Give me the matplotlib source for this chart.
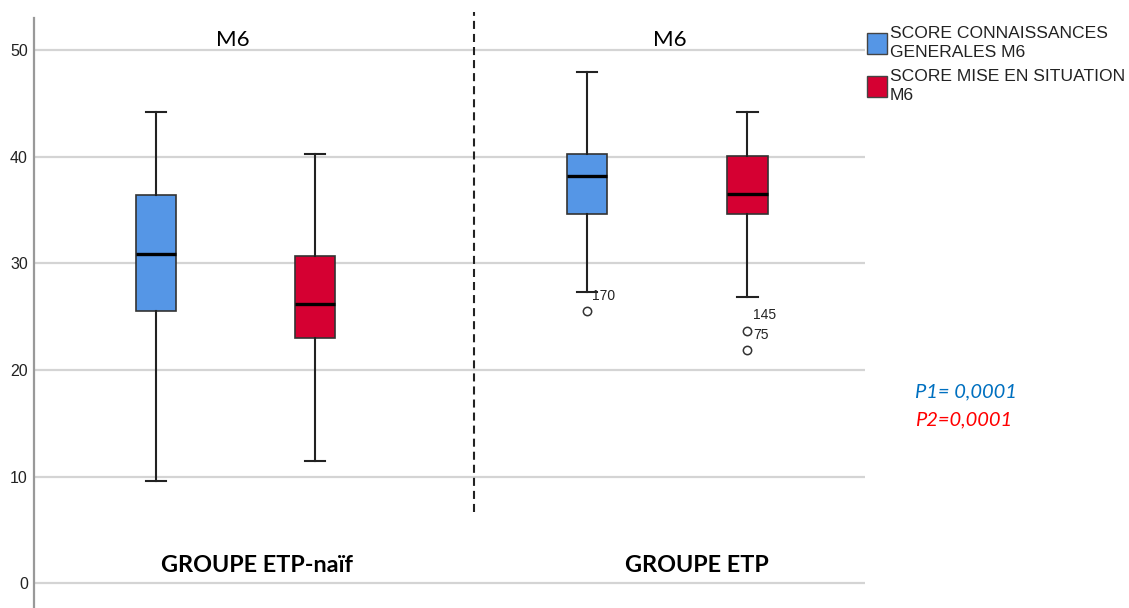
import matplotlib
matplotlib.use("Agg")
import matplotlib.pyplot as plt
from matplotlib.patches import Rectangle

# Data (SPSS boxplot, scores at M6)
groups = ["GROUPE ETP-naïf", "GROUPE ETP"]
series = ["SCORE CONNAISSANCES\nGENERALES M6", "SCORE MISE EN SITUATION\nM6"]
whislo = [9.6, 11.5, 27.3, 26.9]
q1 = [25.5, 23.0, 34.6, 34.6]
med = [30.9, 26.2, 38.2, 36.5]
q3 = [36.4, 30.7, 40.3, 40.1]
whishi = [44.2, 40.3, 48.0, 44.2]
fliers = [[], [], [25.5], [23.7, 21.9]]
flier_ids = [[], [], ["170"], ["145", "75"]]
yticks = [0, 10, 20, 30, 40, 50]
p_texts = ["P1= 0,0001", "P2=0,0001"]

colors = ["#5596E6", "#D50032"]
p_colors = ["#0070C0", "#FF0000"]
positions = [1, 2, 3.71, 4.72]

plt.rcParams["lines.scale_dashes"] = False
fig = plt.figure(figsize=(11.29, 6.08), dpi=100)
ax = fig.add_axes([34 / 1129, 0, 831 / 1129, 590 / 608])

stats = []
for i in range(4):
    stats.append({"whislo": whislo[i], "q1": q1[i], "med": med[i],
                  "q3": q3[i], "whishi": whishi[i], "fliers": fliers[i]})

bp = ax.bxp(stats, positions=positions, widths=0.252, patch_artist=True,
            boxprops=dict(edgecolor="#333333", linewidth=1.2),
            whiskerprops=dict(color="#222222", linewidth=1.5),
            capprops=dict(color="#222222", linewidth=1.5),
            medianprops=dict(color="black", linewidth=2.4),
            flierprops=dict(marker="o", markerfacecolor="white",
                            markeredgecolor="#333333", markersize=6,
                            markeredgewidth=1.1))
for i, box in enumerate(bp["boxes"]):
    box.set_facecolor(colors[i % 2])

# outlier case numbers
for i in range(4):
    for v, lab in zip(fliers[i], flier_ids[i]):
        ax.annotate(lab, (positions[i], v), xytext=(4, 11),
                    textcoords="offset points", fontsize=10,
                    family="Liberation Sans", color="#222222",
                    va="center", ha="left")

ax.set_xlim(0.233, 5.459)
ax.set_ylim(-2.32, 53.03)
ax.set_yticks(yticks)
ax.tick_params(axis="y", length=0, pad=4.5, labelsize=11.5,
               labelcolor="#222222")
for lab in ax.get_yticklabels():
    lab.set_family("Liberation Sans")
ax.set_xticks([])
ax.yaxis.grid(True, color="#d4d4d4", linewidth=1.6)
ax.set_axisbelow(True)
for s in ["top", "right", "bottom"]:
    ax.spines[s].set_visible(False)
ax.spines["left"].set_color("#999999")
ax.spines["left"].set_linewidth(1.6)

# dashed separator between groups
ax.plot([3.0, 3.0], [6.7, 53.6], color="#222222", linewidth=1.5,
        dashes=(5.8, 3.6), clip_on=False)

# group headers and labels
for gx in [1.484, 4.233]:
    ax.text(gx, 51.0, "M6", ha="center", va="center", fontsize=16,
            family="Lato")
for gx, g in zip([1.638, 4.40], groups):
    ax.text(gx, 1.7, g, ha="center", va="center", fontsize=16.8,
            family="Lato", fontweight="bold")

# legend drawn by hand outside the axes
leg_y = [608 - 43, 608 - 86]
for c, yy, txt in zip(colors, leg_y, series):
    fig.patches.append(Rectangle((867 / 1129, (yy - 11) / 608), 20 / 1129,
                                 21 / 608, transform=fig.transFigure,
                                 facecolor=c, edgecolor="#444444",
                                 linewidth=1.0))
    fig.text(890 / 1129, yy / 608, txt, ha="left", va="center",
             fontsize=12.6, family="Liberation Sans", color="#222222",
             linespacing=1.35)

# p-values
for k, (t, c) in enumerate(zip(p_texts, p_colors)):
    fig.text(915 / 1129, (608 - 392 - 28 * k) / 608, t, ha="left",
             va="center", fontsize=14.5, family="Lato", style="italic",
             color=c)

fig.savefig("out.png", dpi=100)
